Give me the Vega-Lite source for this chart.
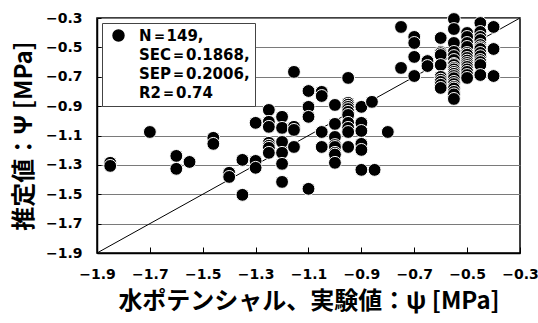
{
  "$schema": "https://vega.github.io/schema/vega-lite/v6.json",
  "width": 423,
  "height": 235,
  "autosize": "none",
  "padding": {"left": 97, "top": 18, "right": 18, "bottom": 70},
  "config": {
    "font": "DejaVu Sans",
    "view": {"stroke": "black", "strokeWidth": 1.5},
    "style": {"guide-label": {"lineHeight": 19}}
  },
  "layer": [
    {
      "data": {"values": [{"x": -1.9, "y": -1.9}, {"x": -0.3, "y": -0.3}]},
      "mark": {"type": "line", "color": "black", "strokeWidth": 1},
      "encoding": {
        "x": {"field": "x", "type": "quantitative", "scale": {"domain": [-1.9, -0.3], "nice": false, "zero": false},
          "axis": {"values": [-1.9, -1.7, -1.5, -1.3, -1.1, -0.9, -0.7, -0.5, -0.3], "tickCount": 12, "format": ".1f", "grid": false,
            "domainColor": "black", "domainWidth": 1.5, "tickColor": "black", "tickSize": -6, "labelPadding": 20,
            "labelFont": "DejaVu Sans", "labelFontSize": 14, "labelFontWeight": "bold", "labelColor": "black", "labelOverlap": false, "labelFlush": false,
            "title": "水ポテンシャル、実験値：ψ [MPa]", "titleFont": "Noto Sans CJK JP", "titleFontSize": 24, "titleFontWeight": "bold", "titleColor": "black", "titlePadding": 8}},
        "y": {"field": "y", "type": "quantitative", "scale": {"domain": [-1.9, -0.3], "nice": false, "zero": false},
          "axis": {"values": [-1.9, -1.7, -1.5, -1.3, -1.1, -0.9, -0.7, -0.5, -0.3], "tickCount": 12, "format": ".1f", "grid": true,
            "gridColor": "#7a7a7a", "gridWidth": 1.2, "domainColor": "black", "domainWidth": 1.5, "tickColor": "black", "tickSize": -4, "labelPadding": 19,
            "labelFont": "DejaVu Sans", "labelFontSize": 14, "labelFontWeight": "bold", "labelColor": "black", "labelOverlap": false, "labelFlush": false,
            "title": "推定値：Ψ [MPa]", "titleFont": "Noto Sans CJK JP", "titleFontSize": 24, "titleFontWeight": "bold", "titleColor": "black", "titlePadding": 9}}
      }
    },
    {
      "data": {"values": [
        {"x": -1.85, "y": -1.286}, {"x": -1.85, "y": -1.307}, {"x": -1.70, "y": -1.076}, {"x": -1.60, "y": -1.239},
        {"x": -1.60, "y": -1.327}, {"x": -1.55, "y": -1.28}, {"x": -1.46, "y": -1.116}, {"x": -1.46, "y": -1.157},
        {"x": -1.40, "y": -1.354}, {"x": -1.40, "y": -1.382}, {"x": -1.35, "y": -1.266}, {"x": -1.35, "y": -1.504},
        {"x": -1.30, "y": -1.014}, {"x": -1.30, "y": -1.273}, {"x": -1.30, "y": -1.32},
        {"x": -1.25, "y": -0.926}, {"x": -1.25, "y": -1.007}, {"x": -1.25, "y": -1.041}, {"x": -1.25, "y": -1.15},
        {"x": -1.25, "y": -1.17}, {"x": -1.25, "y": -1.184}, {"x": -1.25, "y": -1.218},
        {"x": -1.20, "y": -0.973}, {"x": -1.20, "y": -1.048}, {"x": -1.20, "y": -1.144}, {"x": -1.20, "y": -1.218},
        {"x": -1.20, "y": -1.293}, {"x": -1.20, "y": -1.416},
        {"x": -1.155, "y": -0.667}, {"x": -1.155, "y": -1.041}, {"x": -1.155, "y": -1.062}, {"x": -1.155, "y": -1.178},
        {"x": -1.10, "y": -0.797}, {"x": -1.10, "y": -0.905}, {"x": -1.10, "y": -0.973}, {"x": -1.10, "y": -1.463},
        {"x": -1.05, "y": -0.803}, {"x": -1.05, "y": -0.831}, {"x": -1.05, "y": -1.076}, {"x": -1.05, "y": -1.178},
        {"x": -1.00, "y": -0.892}, {"x": -1.00, "y": -1.021}, {"x": -1.00, "y": -1.11}, {"x": -1.00, "y": -1.165},
        {"x": -1.00, "y": -1.178}, {"x": -1.00, "y": -1.218}, {"x": -1.00, "y": -1.23}, {"x": -1.00, "y": -1.286},
        {"x": -0.95, "y": -0.708}, {"x": -0.95, "y": -0.878}, {"x": -0.95, "y": -0.89}, {"x": -0.95, "y": -0.905},
        {"x": -0.95, "y": -0.92}, {"x": -0.95, "y": -0.939}, {"x": -0.95, "y": -0.96}, {"x": -0.95, "y": -1.014},
        {"x": -0.95, "y": -1.048}, {"x": -0.95, "y": -1.076}, {"x": -0.95, "y": -1.178},
        {"x": -0.90, "y": -0.905}, {"x": -0.90, "y": -1.014}, {"x": -0.90, "y": -1.069}, {"x": -0.90, "y": -1.157},
        {"x": -0.90, "y": -1.198}, {"x": -0.90, "y": -1.334},
        {"x": -0.86, "y": -0.871}, {"x": -0.85, "y": -1.334}, {"x": -0.80, "y": -1.076},
        {"x": -0.75, "y": -0.361}, {"x": -0.75, "y": -0.64},
        {"x": -0.70, "y": -0.429}, {"x": -0.70, "y": -0.47}, {"x": -0.70, "y": -0.565}, {"x": -0.70, "y": -0.695},
        {"x": -0.65, "y": -0.593}, {"x": -0.65, "y": -0.627},
        {"x": -0.60, "y": -0.436}, {"x": -0.60, "y": -0.531}, {"x": -0.60, "y": -0.54}, {"x": -0.60, "y": -0.552},
        {"x": -0.60, "y": -0.62}, {"x": -0.60, "y": -0.701}, {"x": -0.60, "y": -0.72}, {"x": -0.60, "y": -0.735},
        {"x": -0.60, "y": -0.755}, {"x": -0.60, "y": -0.776},
        {"x": -0.55, "y": -0.307}, {"x": -0.55, "y": -0.375}, {"x": -0.55, "y": -0.47}, {"x": -0.55, "y": -0.531},
        {"x": -0.55, "y": -0.559}, {"x": -0.55, "y": -0.586}, {"x": -0.55, "y": -0.613}, {"x": -0.55, "y": -0.62},
        {"x": -0.55, "y": -0.64}, {"x": -0.55, "y": -0.65}, {"x": -0.55, "y": -0.667}, {"x": -0.55, "y": -0.68},
        {"x": -0.55, "y": -0.695}, {"x": -0.55, "y": -0.71}, {"x": -0.55, "y": -0.735}, {"x": -0.55, "y": -0.75},
        {"x": -0.55, "y": -0.769}, {"x": -0.55, "y": -0.78}, {"x": -0.55, "y": -0.803}, {"x": -0.55, "y": -0.82},
        {"x": -0.55, "y": -0.851},
        {"x": -0.50, "y": -0.402}, {"x": -0.50, "y": -0.429}, {"x": -0.50, "y": -0.47}, {"x": -0.50, "y": -0.497},
        {"x": -0.50, "y": -0.538}, {"x": -0.50, "y": -0.55}, {"x": -0.50, "y": -0.572}, {"x": -0.50, "y": -0.59},
        {"x": -0.50, "y": -0.606}, {"x": -0.50, "y": -0.62}, {"x": -0.50, "y": -0.633}, {"x": -0.50, "y": -0.65},
        {"x": -0.50, "y": -0.667}, {"x": -0.50, "y": -0.688}, {"x": -0.50, "y": -0.708},
        {"x": -0.45, "y": -0.334}, {"x": -0.45, "y": -0.395}, {"x": -0.45, "y": -0.429}, {"x": -0.45, "y": -0.45},
        {"x": -0.45, "y": -0.484}, {"x": -0.45, "y": -0.50}, {"x": -0.45, "y": -0.511}, {"x": -0.45, "y": -0.538},
        {"x": -0.45, "y": -0.56}, {"x": -0.45, "y": -0.586}, {"x": -0.45, "y": -0.60}, {"x": -0.45, "y": -0.62},
        {"x": -0.45, "y": -0.688},
        {"x": -0.40, "y": -0.361}, {"x": -0.40, "y": -0.511}, {"x": -0.40, "y": -0.695}
      ]},
      "transform": [{"calculate": "'obs'", "as": "s"}],
      "mark": {"type": "point", "shape": "circle", "filled": true, "size": 165, "stroke": "white", "strokeWidth": 1, "opacity": 1},
      "encoding": {
        "x": {"field": "x", "type": "quantitative"},
        "y": {"field": "y", "type": "quantitative"},
        "color": {"field": "s", "type": "nominal", "scale": {"range": ["black"]},
          "legend": {"title": null, "orient": "top-left", "offset": 5, "fillColor": "white", "strokeColor": "#444",
            "padding": 5, "symbolType": "circle", "symbolSize": 120, "symbolStrokeColor": "black", "symbolOffset": 4,
            "labelExpr": "['N＝149,', 'SEC＝0.1868,', 'SEP＝0.2006,', 'R2＝0.74']",
            "labelFont": "DejaVu Sans", "labelFontSize": 15, "labelFontWeight": "bold", "labelColor": "black", "labelLimit": 0,
            "labelBaseline": "middle", "labelOffset": 13}}
      }
    }
  ]
}
